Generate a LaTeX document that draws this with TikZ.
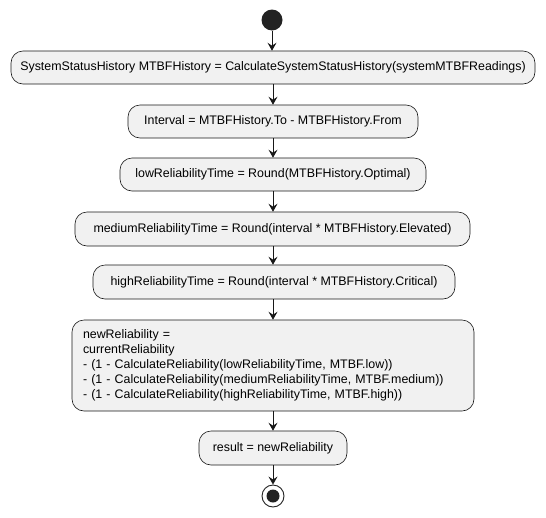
\documentclass[tikz,border=0pt]{standalone}
\usepackage{fontspec}
\setmainfont{Liberation Sans}
\usetikzlibrary{arrows.meta}
\definecolor{boxfill}{HTML}{F1F1F1}
\definecolor{boxline}{HTML}{181818}
\definecolor{dot}{HTML}{222222}
\begin{document}
\begin{tikzpicture}[x=1pt,y=-1pt,
  act/.style={draw=boxline, fill=boxfill, rounded corners=12pt, line width=0.6pt,
    minimum height=33pt, inner sep=0pt, font=\fontsize{12.4}{15}\selectfont},
  flow/.style={draw=boxline, line width=0.9pt, -{Stealth[length=8pt,width=9pt,inset=3pt]}}]
\useasboundingbox (0,0) rectangle (546,517);
\node[circle, fill=dot, minimum size=21pt, inner sep=0pt] (start) at (272,20) {};
\node[act, minimum width=524pt] (b1) at (273,67.5) {SystemStatusHistory MTBFHistory = CalculateSystemStatusHistory(systemMTBFReadings)};
\node[act, minimum width=290pt] (b2) at (273,121.5) {Interval = MTBFHistory.To - MTBFHistory.From};
\node[act, minimum width=306pt] (b3) at (273,174.5) {lowReliabilityTime = Round(MTBFHistory.Optimal)};
\node[act, minimum width=395pt, minimum height=34pt] (b4) at (272.5,229) {mediumReliabilityTime = Round(interval * MTBFHistory.Elevated)};
\node[act, minimum width=362pt, minimum height=34pt] (b5) at (274,282) {highReliabilityTime = Round(interval * MTBFHistory.Critical)};
\node[act, minimum width=402pt, minimum height=91pt, text width=380pt, align=left] (b6) at (273,365.5) {newReliability =\\currentReliability\\- (1 - CalculateReliability(lowReliabilityTime, MTBF.low))\\- (1 - CalculateReliability(mediumReliabilityTime, MTBF.medium))\\- (1 - CalculateReliability(highReliabilityTime, MTBF.high))};
\node[act, minimum width=148pt, minimum height=34pt] (b7) at (273,448) {result = newReliability};
\node[circle, draw=dot, line width=0.9pt, fill=white, minimum size=22pt, inner sep=0pt] (stop) at (273,496) {};
\fill[dot] (stop.center) circle (6.5pt);
\draw[flow] (start.south) -- (start.south |- b1.north);
\draw[flow] (b1.south -| b2.north) -- (b2.north);
\draw[flow] (b2.south) -- (b3.north);
\draw[flow] (b3.south) -- (b3.south |- b4.north);
\draw[flow] (b4.south -| b3.south) -- (b3.south |- b5.north);
\draw[flow] (b5.south -| b6.north) -- (b6.north);
\draw[flow] (b6.south) -- (b7.north);
\draw[flow] (b7.south) -- (stop.north);
\end{tikzpicture}
\end{document}
